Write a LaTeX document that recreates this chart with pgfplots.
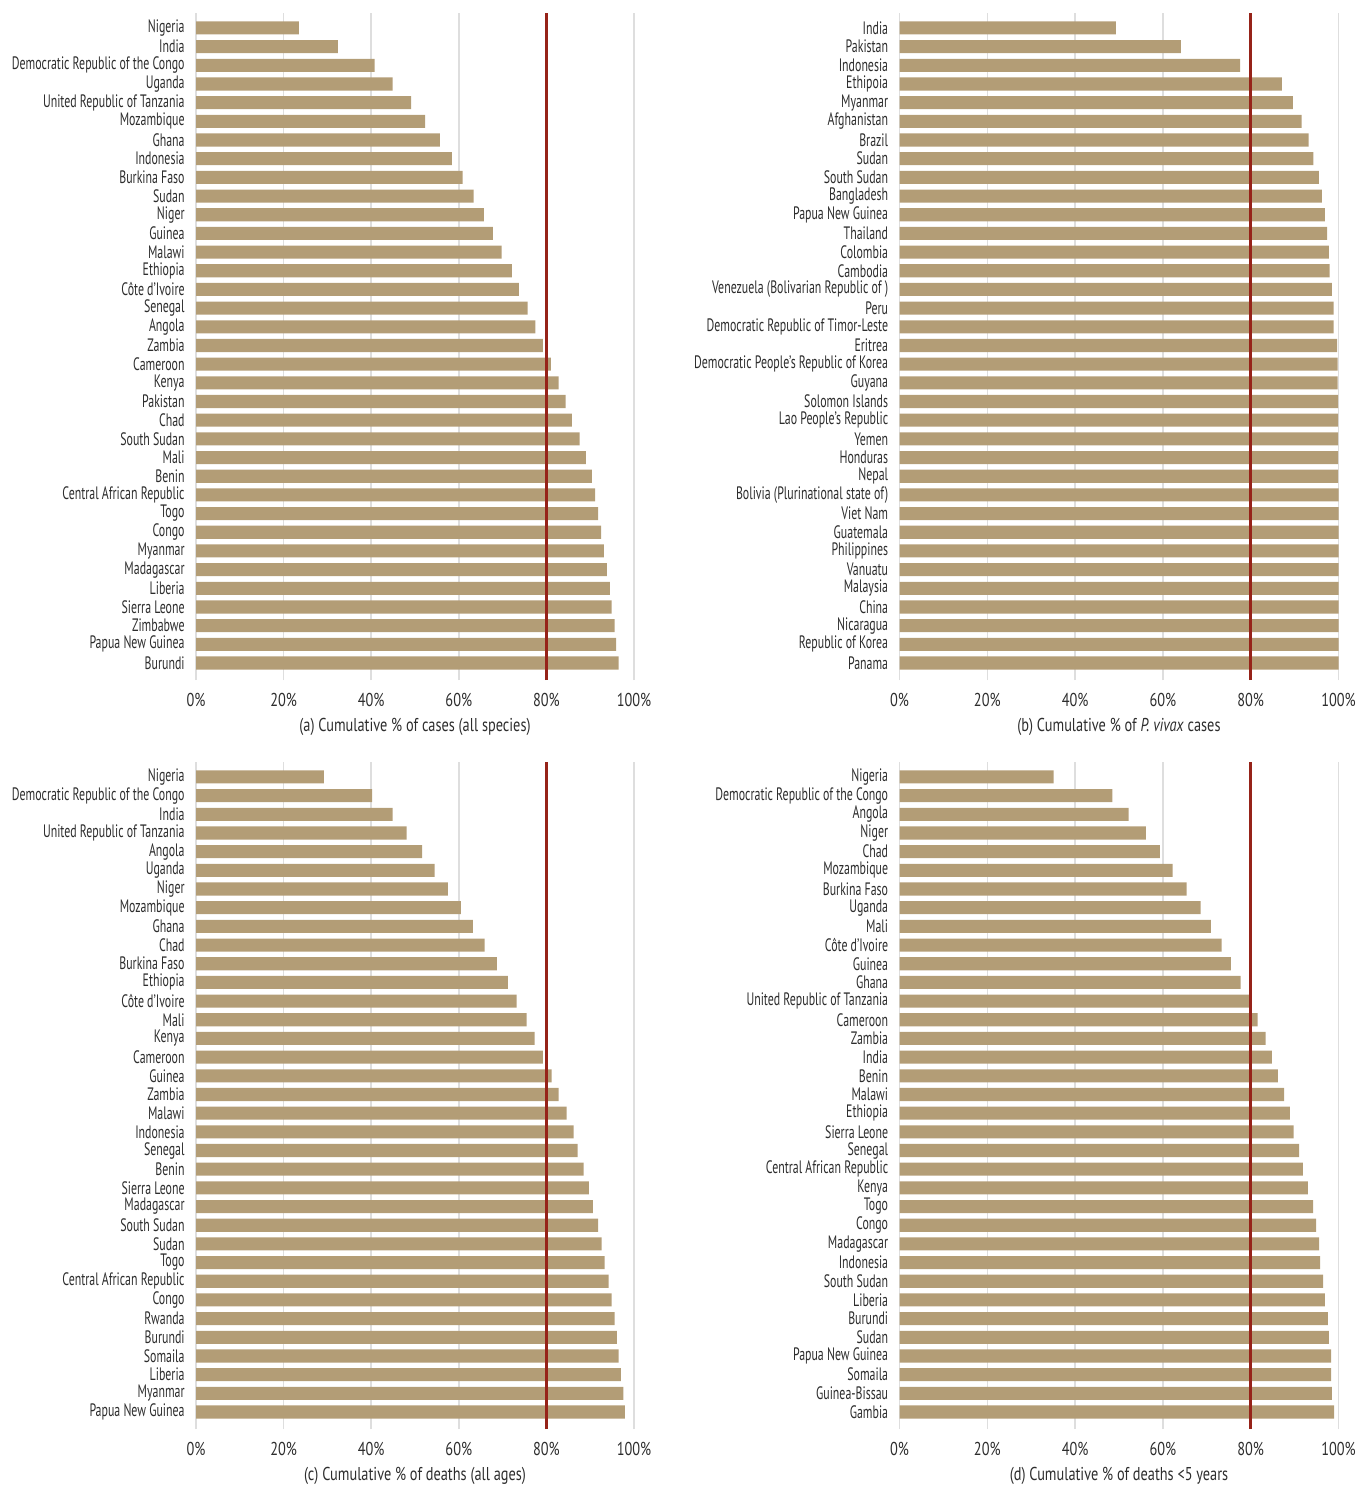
\documentclass[border=0pt]{standalone}
\usepackage{fontspec}
\setmainfont{PT Sans}[FakeStretch=0.66]
\newfontfamily\tickfont{PT Sans}[FakeStretch=0.77]
\usepackage{pgfplots}
\usepackage{pgfplotstable}
\pgfplotsset{compat=1.18}
\definecolor{barc}{RGB}{179,157,118}
\definecolor{redl}{RGB}{150,35,25}
\definecolor{txt}{RGB}{45,45,45}

\pgfplotstableread[col sep=comma]{
name,val
Nigeria,23.5
India,32.4
Democratic Republic of the Congo,40.8
Uganda,44.9
United Republic of Tanzania,49.1
Mozambique,52.3
Ghana,55.7
Indonesia,58.4
Burkina Faso,60.9
Sudan,63.4
Niger,65.7
Guinea,67.8
Malawi,69.8
Ethiopia,72.1
Côte d’Ivoire,73.7
Senegal,75.7
Angola,77.5
Zambia,79.2
Cameroon,81.0
Kenya,82.8
Pakistan,84.4
Chad,85.8
South Sudan,87.6
Mali,89.0
Benin,90.4
Central African Republic,91.1
Togo,91.8
Congo,92.5
Myanmar,93.1
Madagascar,93.8
Liberia,94.5
Sierra Leone,94.9
Zimbabwe,95.6
Papua New Guinea,95.9
Burundi,96.5
}\tabA

\pgfplotstableread[col sep=comma]{
name,val
India,49.3
Pakistan,64.1
Indonesia,77.6
Ethipoia,87.1
Myanmar,89.6
Afghanistan,91.6
Brazil,93.2
Sudan,94.3
South Sudan,95.5
Bangladesh,96.2
Papua New Guinea,96.9
Thailand,97.4
Colombia,97.8
Cambodia,98.0
Venezuela (Bolivarian Republic of ),98.5
Peru,98.9
Democratic Republic of Timor-Leste,98.9
Eritrea,99.7
Democratic People’s Republic of Korea,99.8
Guyana,99.8
Solomon Islands,99.9
Lao People’s Republic,99.9
Yemen,99.9
Honduras,99.9
Nepal,99.9
Bolivia (Plurinational state of),100
Viet Nam,100
Guatemala,100
Philippines,100
Vanuatu,100
Malaysia,100
China,100
Nicaragua,100
Republic of Korea,100
Panama,100
}\tabB

\pgfplotstableread[col sep=comma]{
name,val
Nigeria,29.2
Democratic Republic of the Congo,40.2
India,44.9
United Republic of Tanzania,48.1
Angola,51.6
Uganda,54.5
Niger,57.5
Mozambique,60.5
Ghana,63.2
Chad,65.9
Burkina Faso,68.7
Ethiopia,71.2
Côte d’Ivoire,73.2
Mali,75.5
Kenya,77.3
Cameroon,79.2
Guinea,81.2
Zambia,82.8
Malawi,84.6
Indonesia,86.2
Senegal,87.1
Benin,88.5
Sierra Leone,89.7
Madagascar,90.6
South Sudan,91.8
Sudan,92.6
Togo,93.3
Central African Republic,94.2
Congo,94.9
Rwanda,95.6
Burundi,96.1
Somaila,96.5
Liberia,97.0
Myanmar,97.6
Papua New Guinea,97.9
}\tabC

\pgfplotstableread[col sep=comma]{
name,val
Nigeria,35.1
Democratic Republic of the Congo,48.5
Angola,52.2
Niger,56.1
Chad,59.3
Mozambique,62.2
Burkina Faso,65.4
Uganda,68.6
Mali,70.9
Côte d’Ivoire,73.4
Guinea,75.5
Ghana,77.7
United Republic of Tanzania,79.8
Cameroon,81.6
Zambia,83.4
India,84.8
Benin,86.2
Malawi,87.6
Ethiopia,88.9
Sierra Leone,89.8
Senegal,91.0
Central African Republic,91.9
Kenya,93.0
Togo,94.2
Congo,94.9
Madagascar,95.6
Indonesia,95.8
South Sudan,96.5
Liberia,96.9
Burundi,97.6
Sudan,97.8
Papua New Guinea,98.3
Somaila,98.3
Guinea-Bissau,98.5
Gambia,99.0
}\tabD

\pgfplotsset{
  panel/.style={
    scale only axis, width=219pt, height=333.5pt,
    xmin=0, xmax=100, ymin=0.09, ymax=35.8,
    axis line style={draw=none},
    xtick={0,20,40,60,80,100},
    xticklabels={0\%,20\%,40\%,60\%,80\%,100\%},
    ytick=data,
    major tick length=0pt,
    xmajorgrids, grid style={line width=0.75pt, black!13},
    yticklabel style={font=\fontsize{9}{10}\selectfont, text=txt,
      anchor=east, inner sep=0pt, xshift=-5.5pt},
    xticklabel style={font=\tickfont\fontsize{9.3}{10}\selectfont, text=txt,
      anchor=center, yshift=-10pt},
    xlabel style={font=\tickfont\fontsize{9.3}{10}\selectfont, text=txt,
      at={(axis description cs:0.5,0)}, anchor=center, yshift=-23.5pt},
  },
  bars/.style={xbar, bar width=0.7, bar shift=0pt, fill=barc, draw=none},
  redline/.style={redl, line width=1.5pt, no markers},
}

\begin{document}
\begin{tikzpicture}
\useasboundingbox (0,0) rectangle (680pt,-743pt);

\begin{axis}[panel, at={(98pt,-6.5pt)}, anchor=north west,
  yticklabels from table={\tabA}{name},
  xlabel={(a) Cumulative \% of cases (all species)}]
\addplot[bars] table[x=val, y expr=35-\coordindex] {\tabA};
\addplot[redline] coordinates {(80,0.09) (80,35.8)};
\end{axis}

\begin{axis}[panel, width=219.5pt, at={(449.75pt,-6.5pt)}, anchor=north west,
  yticklabels from table={\tabB}{name},
  xlabel={(b) Cumulative \% of \textit{P. vivax} cases}]
\addplot[bars] table[x=val, y expr=35-\coordindex] {\tabB};
\addplot[redline] coordinates {(80,0.09) (80,35.8)};
\end{axis}

\begin{axis}[panel, at={(98pt,-381pt)}, anchor=north west,
  yticklabels from table={\tabC}{name},
  xlabel={(c) Cumulative \% of deaths (all ages)}]
\addplot[bars] table[x=val, y expr=35-\coordindex] {\tabC};
\addplot[redline] coordinates {(80,0.09) (80,35.8)};
\end{axis}

\begin{axis}[panel, width=219.5pt, at={(449.75pt,-381pt)}, anchor=north west,
  yticklabels from table={\tabD}{name},
  xlabel={(d) Cumulative \% of deaths <5 years}]
\addplot[bars] table[x=val, y expr=35-\coordindex] {\tabD};
\addplot[redline] coordinates {(80,0.09) (80,35.8)};
\end{axis}
\end{tikzpicture}
\end{document}
